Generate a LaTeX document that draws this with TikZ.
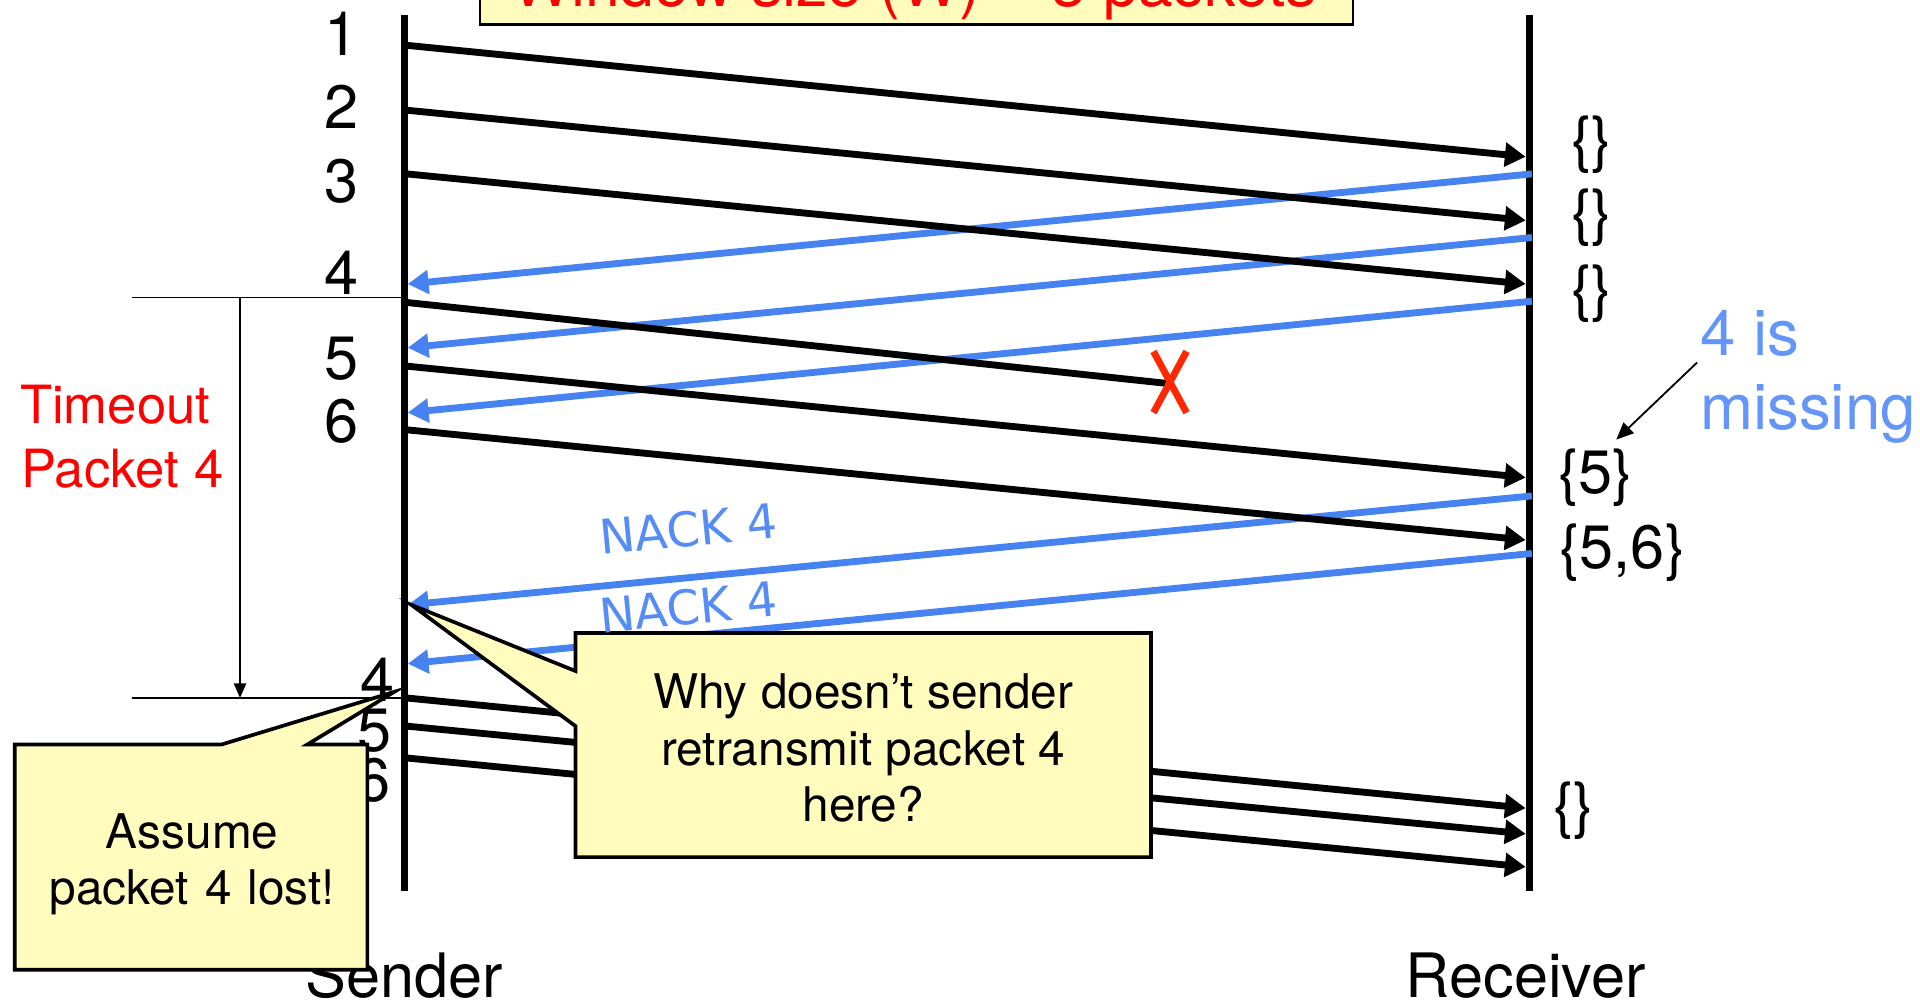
\documentclass[tikz,border=0pt]{standalone}
\usepackage{fontspec}
\setmainfont{TeX Gyre Heros}
\newfontfamily\nackfont{DejaVu Sans}
\usetikzlibrary{arrows.meta}
\definecolor{ackblue}{RGB}{70,130,240}
\definecolor{noteblue}{RGB}{100,150,250}
\definecolor{nackblue}{RGB}{85,140,245}
\definecolor{lostred}{RGB}{255,40,0}
\definecolor{noteyellow}{RGB}{255,252,190}
\tikzset{
  lbl/.style={inner sep=0pt, font=\fontsize{25}{30}\selectfont},
  redlbl/.style={inner sep=0pt, text=red, font=\fontsize{21.5}{26}\selectfont},
  bluelbl/.style={inner sep=0pt, text=noteblue, font=\fontsize{26}{31}\selectfont},
  nacklbl/.style={inner sep=0pt, text=nackblue, rotate=5.6, font=\nackfont\fontsize{19.5}{23}\selectfont},
  notetext/.style={inner sep=0pt, align=center, font=\fontsize{19.5}{23}\selectfont},
  timeline/.style={line width=2.8pt},
  data/.style={line width=2.8pt, -{Triangle[length=8.5pt,width=9.5pt]}},
  ack/.style={data, draw=ackblue, color=ackblue},
  guide/.style={line width=0.75pt},
  lostx/.style={line width=2.8pt, draw=lostred},
  callout/.style={draw=black, line width=1.5pt, fill=noteyellow, line join=miter},
}
\begin{document}
\begin{tikzpicture}[x=0.5pt,y=-0.5pt]
\useasboundingbox (0,0) rectangle (1568,818);
\clip (0,0) rectangle (1568,818);

% window size banner
\coordinate (win-tl) at (392,-60);
\coordinate (win-br) at (1105,20);
\draw[fill=noteyellow, line width=1pt] (win-tl) rectangle (win-br);
\node[inner sep=0pt, anchor=base, text=red, font=\fontsize{25.5}{30}\selectfont] (win) at (747,5) {Window size (W) = 3 packets};

% time lines
\coordinate (s-top) at (330,12);
\coordinate (s-bot) at (330,728);
\coordinate (r-top) at (1249,12);
\coordinate (r-bot) at (1249,728);
\draw[timeline] (s-top) -- (s-bot);
\draw[timeline] (r-top) -- (r-bot);

% packet numbers at the sender
\node[lbl] (p1) at (279,28) {1};
\node[lbl] (p2) at (279,87) {2};
\node[lbl] (p3) at (279,148) {3};
\node[lbl] (p4) at (279,223) {4};
\node[lbl] (p5) at (279,293) {5};
\node[lbl] (p6) at (279,344) {6};
\node[lbl] (q4) at (308,555) {4};
\node[lbl] (q5) at (306,597) {5};
\node[lbl] (q6) at (305,637) {6};

% receiver buffers
\node[lbl] (b1) at (1300,118) {\{\}};
\node[lbl] (b2) at (1300,178) {\{\}};
\node[lbl] (b3) at (1300,240) {\{\}};
\node[lbl] (b5) at (1303,390) {\{5\}};
\node[lbl] (b56) at (1325,451) {\{5,6\}};
\node[lbl] (b0) at (1285,662) {\{\}};

% acknowledgements (drawn beneath the data packets)
\foreach \n/\yr/\ys in {1/142/232, 2/194/284, 3/246/337, n1/405/494, n2/452/542} {
  \coordinate (a\n-r) at (1251,\yr);
  \coordinate (a\n-s) at (333,\ys);
  \draw[ack] (a\n-r) -- (a\n-s);
}
\node[nacklbl] (nack1) at (562,432) {NACK 4};

% data packets
\foreach \n/\ys/\yr in {1/37/128, 2/90/180, 3/142/232, 5/299/390, 6/351/441, 4b/570/660, 5b/593/681, 6b/619/708} {
  \coordinate (d\n-s) at (332,\ys);
  \coordinate (d\n-r) at (1246,\yr);
  \draw[data] (d\n-s) -- (d\n-r);
}

% packet 4 is lost
\coordinate (d4-s) at (332,247);
\coordinate (lost) at (952,313);
\draw[line width=2.8pt] (d4-s) -- (lost);
\coordinate (x-nw) at (942,287);
\coordinate (x-se) at (969,337);
\coordinate (x-ne) at (969,287);
\coordinate (x-sw) at (942,337);
\draw[lostx] (x-nw) -- (x-se) (x-ne) -- (x-sw);

% timeout interval
\coordinate (to-a) at (108,243);
\coordinate (to-a-s) at (330,243);
\coordinate (to-b) at (108,570);
\coordinate (to-b-s) at (330,570);
\coordinate (to-top) at (196,243);
\coordinate (to-bot) at (196,570);
\draw[guide] (to-a) -- (to-a-s);
\draw[guide] (to-b) -- (to-b-s);
\draw[guide, -{Triangle[length=6pt,width=5pt]}] (to-top) -- (to-bot);
\node[redlbl, anchor=base west] (tout1) at (16,346) {Timeout};
\node[redlbl, anchor=base west] (tout2) at (17,398) {Packet 4};

% missing packet remark
\node[bluelbl, anchor=base west] (miss1) at (1388,290) {4 is};
\node[bluelbl, anchor=base west] (miss2) at (1388,351) {missing};
\coordinate (miss-from) at (1386,296);
\coordinate (miss-to) at (1320,359);
\draw[guide, -{Triangle[length=7pt,width=6pt]}] (miss-from) -- (miss-to);

% end labels
\node[lbl, anchor=base] (snd) at (330,815) {Sender};
\node[lbl, anchor=base] (rcv) at (1246,815) {Receiver};

% callout: why no retransmission
\coordinate (c1-tl) at (470,517);
\coordinate (c1-tr) at (940,517);
\coordinate (c1-br) at (940,700);
\coordinate (c1-bl) at (470,700);
\coordinate (c1-lo) at (470,593);
\coordinate (c1-up) at (470,548);
\coordinate (c1-tip) at (336,494);
\draw[callout] (c1-tl) -- (c1-tr) -- (c1-br) -- (c1-bl) -- (c1-lo) -- (c1-tip) -- (c1-up) -- cycle;
\node[notetext] (why) at (705,611) {Why doesn’t sender\\retransmit packet 4\\here?};
\node[nacklbl] (nack2) at (562,496) {NACK 4};

% callout: assume lost
\coordinate (c2-tl) at (12,608);
\coordinate (c2-a) at (181,608);
\coordinate (c2-tip) at (322,565);
\coordinate (c2-b) at (251,608);
\coordinate (c2-tr) at (300,608);
\coordinate (c2-br) at (300,792);
\coordinate (c2-bl) at (12,792);
\draw[callout] (c2-tl) -- (c2-a) -- (c2-tip) -- (c2-b) -- (c2-tr) -- (c2-br) -- (c2-bl) -- cycle;
\node[notetext, text width=140pt] (assume) at (157,706) {Assume\\packet 4 lost!};
\end{tikzpicture}
\end{document}
